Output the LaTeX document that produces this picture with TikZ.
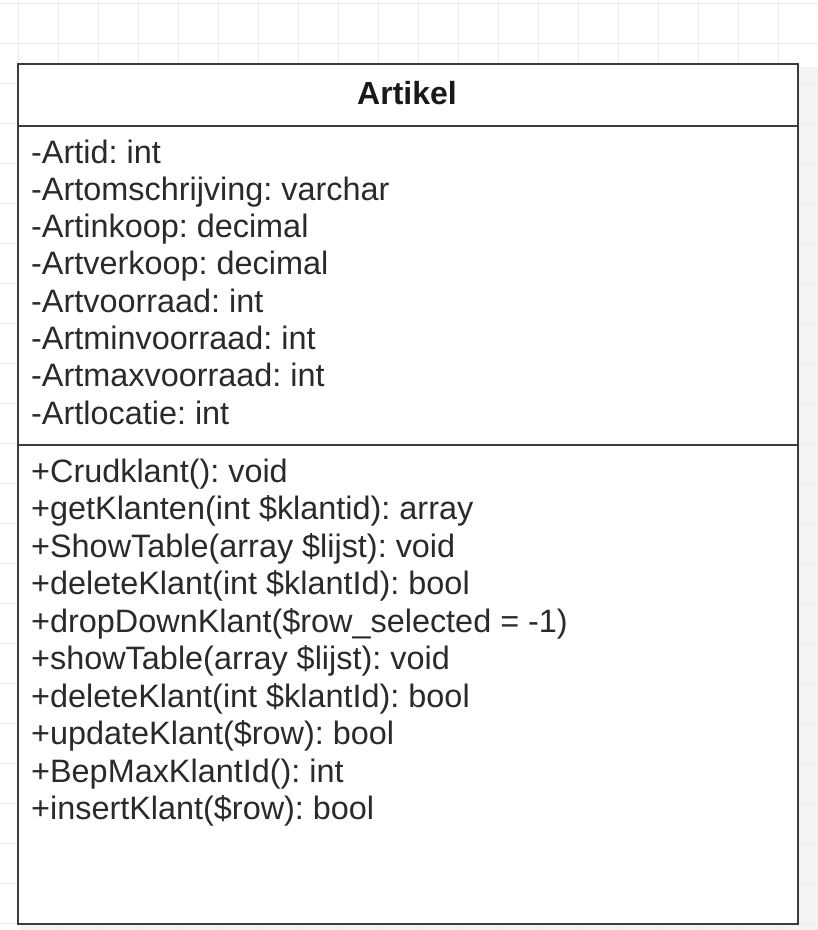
\documentclass[tikz,border=0pt]{standalone}
\usepackage{fontspec}
\setmainfont{Liberation Sans}
\frenchspacing
\definecolor{gridc}{HTML}{EBEBEB}
\definecolor{shadowc}{HTML}{F3F3F3}
\definecolor{boxc}{HTML}{3C3C3C}
\definecolor{txtc}{HTML}{2A2A2A}
\tikzset{
  member/.style={anchor=base west, inner sep=0pt, text=txtc, font=\fontsize{32.4}{37.5}\selectfont\frenchspacing},
  title/.style={anchor=base, inner sep=0pt, text=black!90, font=\fontsize{32}{37.5}\selectfont\bfseries},
  boxline/.style={draw=boxc, line width=2pt},
}
\begin{document}
\begin{tikzpicture}[x=1pt,y=-1pt]
\useasboundingbox (0,0) rectangle (818,930);
% shadow
\fill[shadowc] (21,67) rectangle (818,930);
% grid
\foreach \gx in {18,58,...,818} \draw[gridc, line width=1pt] (\gx,0) -- (\gx,930);
\foreach \gy in {3,43,...,930} \draw[gridc, line width=1pt] (0,\gy) -- (818,\gy);
% class box
\node[boxline, fill=white, minimum width=780pt, minimum height=860pt, inner sep=0pt, anchor=north west] (box) at (17,63) {};
\coordinate (s1l) at (17,126); \coordinate (s1r) at (797,126);
\coordinate (s2l) at (17,445); \coordinate (s2r) at (797,445);
\draw[boxline] (s1l) -- (s1r);
\draw[boxline] (s2l) -- (s2r);
\node[title] (t) at (407,104) {Artikel};
% attributes
\node[member] (a1) at (31,163) {-Artid: int};
\node[member] (a2) at (31,200.3) {-Artomschrijving: varchar};
\node[member] (a3) at (31,237.6) {-Artinkoop: decimal};
\node[member] (a4) at (31,274.9) {-Artverkoop: decimal};
\node[member] (a5) at (31,312.2) {-Artvoorraad: int};
\node[member] (a6) at (31,349.5) {-Artminvoorraad: int};
\node[member] (a7) at (31,386.8) {-Artmaxvoorraad: int};
\node[member] (a8) at (31,424.1) {-Artlocatie: int};
% methods
\node[member] (m1) at (31,482) {+Crudklant(): void};
\node[member] (m2) at (31,519.5) {+getKlanten(int \$klantid): array};
\node[member] (m3) at (31,557) {+ShowTable(array \$lijst): void};
\node[member] (m4) at (31,594.5) {+deleteKlant(int \$klantId): bool};
\node[member] (m5) at (31,632) {+dropDownKlant(\$row\_selected = -1)};
\node[member] (m6) at (31,669.5) {+showTable(array \$lijst): void};
\node[member] (m7) at (31,707) {+deleteKlant(int \$klantId): bool};
\node[member] (m8) at (31,744.5) {+updateKlant(\$row): bool};
\node[member] (m9) at (31,782) {+BepMaxKlantId(): int};
\node[member] (m10) at (31,819.5) {+insertKlant(\$row): bool};
\end{tikzpicture}
\end{document}
